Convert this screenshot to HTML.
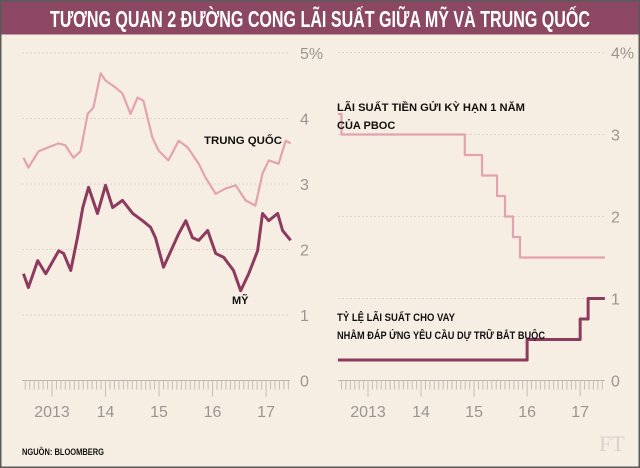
<!DOCTYPE html>
<html><head><meta charset="utf-8"><style>
html,body{margin:0;padding:0;background:#fff}
svg{display:block;font-family:"Liberation Sans Narrow","Liberation Sans","DejaVu Sans Condensed",sans-serif}
</style></head><body>
<svg id="c" width="640" height="468" viewBox="0 0 640 468">
<rect x="0" y="0" width="640" height="468" fill="#f7eee3" stroke="#5a5a5a" stroke-width="3"/>
<rect x="1.5" y="1.5" width="637" height="33" fill="#8c4862"/>
<text x="320" y="27" text-anchor="middle" fill="#fff" font-size="23" font-weight="bold" textLength="540" lengthAdjust="spacingAndGlyphs">TƯƠNG QUAN 2 ĐƯỜNG CONG LÃI SUẤT GIỮA MỸ VÀ TRUNG QUỐC</text>
<g id="grid"></g>
<g id="axes" fill="#9a9590" font-size="16"></g>
<g id="series"></g>
<g font-weight="bold" fill="#111" font-size="11">
<text x="204" y="144" textLength="78" lengthAdjust="spacingAndGlyphs">TRUNG QUỐC</text>
<text x="232" y="304">MỸ</text>
<text x="337" y="111" textLength="188" lengthAdjust="spacingAndGlyphs">LÃI SUẤT TIỀN GỬI KỲ HẠN 1 NĂM</text>
<text x="337" y="129">CỦA PBOC</text>
<text x="337" y="321" textLength="118" lengthAdjust="spacingAndGlyphs">TỶ LỆ LÃI SUẤT CHO VAY</text>
<text x="337" y="339" textLength="208" lengthAdjust="spacingAndGlyphs">NHẰM ĐÁP ỨNG YÊU CẦU DỰ TRỮ BẮT BUỘC</text>
<text x="22" y="455" font-size="9.5" textLength="82" lengthAdjust="spacingAndGlyphs">NGUỒN: BLOOMBERG</text>
</g>
<text x="599" y="451" font-family="Liberation Serif,serif" font-size="22" fill="#d8d2cc">FT</text>
</svg>
<script>
// months since Jan 2012
const chinaMonths=[5.6,6.7,9.0,11.2,13.5,15.0,16.8,18.4,20.0,21.3,22.9,24.0,26.3,27.8,29.6,31.2,32.5,34.5,35.9,38.1,40.4,42.4,44.9,46.4,48.7,50.9,53.2,55.4,57.6,59.2,60.6,62.8,64.4,65.5];
const chinaYield=[3.40,3.25,3.5,3.56,3.62,3.59,3.4,3.5,4.07,4.17,4.69,4.58,4.47,4.38,4.07,4.32,4.27,3.71,3.51,3.36,3.66,3.56,3.31,3.10,2.85,2.93,2.98,2.75,2.67,3.16,3.36,3.31,3.66,3.62];
const usMonths=[5.6,6.7,8.8,10.6,13.5,14.6,16.2,17.7,18.9,20.2,22.2,24.0,25.6,27.8,30.1,32.3,34.1,35.2,37.0,39.0,40.4,42.0,43.5,44.9,46.9,48.7,50.5,52.7,54.3,56.1,58.1,59.2,60.6,62.6,63.7,65.5];
const usYield=[1.63,1.42,1.83,1.63,1.98,1.94,1.68,2.18,2.64,2.95,2.55,2.98,2.64,2.75,2.55,2.44,2.34,2.18,1.73,2.03,2.24,2.44,2.18,2.14,2.29,1.94,1.88,1.68,1.37,1.63,1.98,2.55,2.44,2.55,2.29,2.14];
const depositMonths=[5.2,6.0,33.9,37.8,41.2,43.0,44.8,46.4,65.6];
const depositRate=[3.25,3.0,2.75,2.5,2.25,2.0,1.75,1.5,1.5];
const lendingMonths=[5.2,48.0,60.0,61.8,65.6];
const lendingRate=[0.25,0.5,0.75,1.0,1.0];
const yearLabels=["2013","14","15","16","17"];
const leftTicks=["0","1","2","3","4","5%"];
const rightTicks=["0","1","2","3","4%"];

const NS="http://www.w3.org/2000/svg";
function mk(tag,attrs,parent){const e=document.createElementNS(NS,tag);for(const k in attrs)e.setAttribute(k,attrs[k]);parent.appendChild(e);return e;}
const L={x0:22,x1:290,mx:m=>52+(m-12)*4.46,y:v=>380.5-v*65.5,lab:300};
const R={x0:338,x1:605,mx:m=>368+(m-12)*4.42,y:v=>380.5-v*82,lab:611};
const grid=document.getElementById('grid'),axes=document.getElementById('axes'),ser=document.getElementById('series');
function panel(P,ticks,pre){
  ticks.forEach((t,i)=>{
    if(i>0){const g=mk('line',{x1:P.x0,x2:P.x1,y1:P.y(i),y2:P.y(i),stroke:'#dcd5cc','stroke-width':1,'stroke-dasharray':'2 2'},grid);
    
    }
    const tx=mk('text',{x:P.lab,y:P.y(i)+6},axes);tx.textContent=t;
    
    
  });
  const base=mk('line',{x1:P.x0,x2:P.x1,y1:P.y(0),y2:P.y(0),stroke:'#bdb6ae','stroke-width':1},axes);
  
  
  for(let m=6;m<=66;m++){const x=P.mx(m);if(x<P.x0||x>P.x1)continue;const yr=m%12===0;
    const t=mk('line',{x1:x,x2:x,y1:P.y(0),y2:P.y(0)+(yr?16:9),stroke:'#c4bdb5','stroke-width':1},axes);
    
    }
  yearLabels.forEach((y,i)=>{const tx=mk('text',{x:P.mx(12+12*i),y:417,'text-anchor':'middle'},axes);tx.textContent=y;
    
    });
}
panel(L,leftTicks,'left');panel(R,rightTicks,'right');
function line(P,ms,vs,col,w,name,step){
  let d='';ms.forEach((m,i)=>{const x=P.mx(m),y=P.y(vs[i]);
    if(i===0)d='M'+x+' '+y;else if(step)d+=' L'+x+' '+P.y(vs[i-1])+' L'+x+' '+y;else d+=' L'+x+' '+y;});
  const p=mk('path',{d:d,fill:'none',stroke:col,'stroke-width':w,'stroke-linejoin':'round'},ser);
  
  
}
line(L,chinaMonths,chinaYield,'#e3a3ae',2.2,'china-yield-line',false);
line(L,usMonths,usYield,'#8c3a5e',3,'us-yield-line',false);
line(R,depositMonths,depositRate,'#e3a3ae',2.2,'pboc-deposit-rate-line',true);
line(R,lendingMonths,lendingRate,'#8c3a5e',3,'pboc-lending-rate-line',true);
</script>
</body></html>
